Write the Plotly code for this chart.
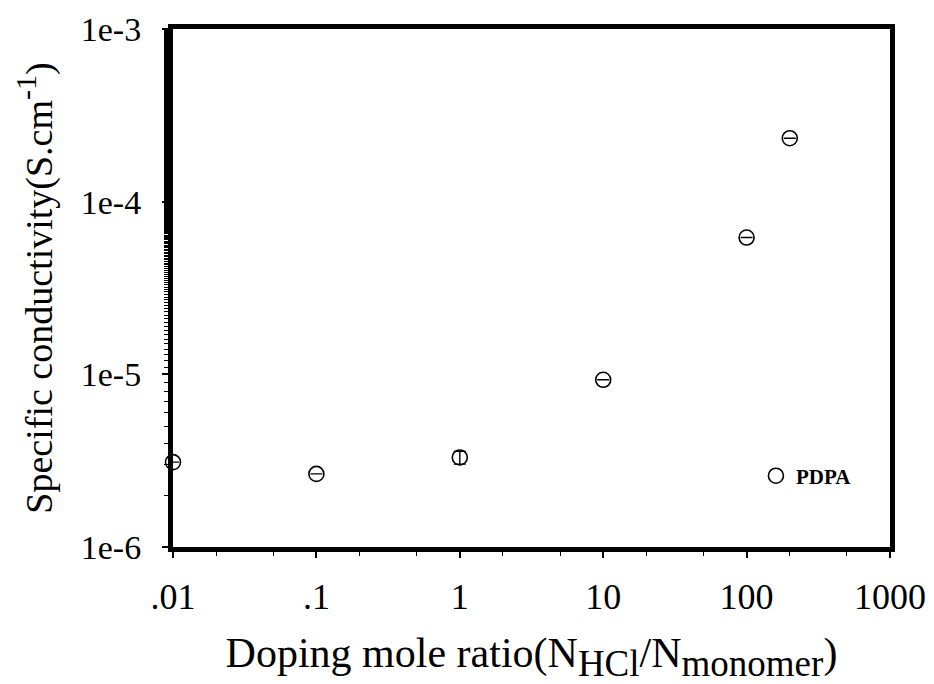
import plotly.graph_objects as go

ratio = [0.01, 0.1, 1, 10, 100, 200]
conductivity = [3.1e-6, 2.65e-6, 3.3e-6, 9.3e-6, 6.2e-5, 2.33e-4]
err_plus = [0, 0, 0.28e-6, 0, 0, 0]

x_tickvals = [0.01, 0.1, 1, 10, 100, 1000]
x_ticktext = [".01", ".1", "1", "10", "100", "1000"]
y_tickvals = [1e-6, 1e-5, 1e-4, 1e-3]
y_ticktext = ["1e-6", "1e-5", "1e-4", "1e-3"]

font_family = "Liberation Serif, Times New Roman, serif"

sub = '<sub><span style="font-size:37px">{}</span></sub>'
x_title = "Doping mole ratio(N" + sub.format("HCl") + "/N" + sub.format("monomer") + ")"
y_title = 'Specific conductivity(S.cm<sup><span style="font-size:30px">-1</span></sup>)'

fig = go.Figure()
fig.add_trace(go.Scatter(
    x=ratio, y=conductivity, mode="markers", name="PDPA",
    marker=dict(symbol="circle-open", size=15, color="black", line=dict(width=1.6, color="black")),
    error_y=dict(type="data", array=err_plus, symmetric=True, color="black", thickness=1.4, width=6),
    cliponaxis=False,
))

fig.update_layout(
    width=934, height=684,
    margin=dict(l=173, r=44, t=29, b=137),
    paper_bgcolor="white", plot_bgcolor="white",
    font=dict(family=font_family, size=36, color="black"),
    showlegend=True,
    legend=dict(x=0.813, y=0.137, xanchor="left", yanchor="middle",
                bgcolor="rgba(0,0,0,0)",
                font=dict(family=font_family, size=21, color="black", weight="bold")),
    xaxis=dict(
        type="log", range=[-2, 3], automargin=False,
        tickvals=x_tickvals, ticktext=x_ticktext,
        showline=True, linewidth=5, linecolor="black", mirror=True,
        ticks="outside", ticklen=6, tickwidth=1.5, tickcolor="black",
        minor=dict(ticks="outside", ticklen=4, tickwidth=1, tickcolor="black", showgrid=False),
        showgrid=False, zeroline=False,
        tickfont=dict(size=36), ticklabelstandoff=8,
        title=dict(text=x_title, font=dict(size=42), standoff=30),
    ),
    yaxis=dict(
        type="log", range=[-6, -3], automargin=False,
        tickvals=y_tickvals, ticktext=y_ticktext,
        showline=True, linewidth=5, linecolor="black", mirror=True,
        ticks="outside", ticklen=6, tickwidth=1.5, tickcolor="black",
        minor=dict(ticks="outside", ticklen=4, tickwidth=1, tickcolor="black", showgrid=False),
        showgrid=False, zeroline=False,
        tickfont=dict(size=34), ticklabelstandoff=14,
        title=dict(text=y_title, font=dict(size=38), standoff=18),
    ),
)

fig.write_html("out.html")
